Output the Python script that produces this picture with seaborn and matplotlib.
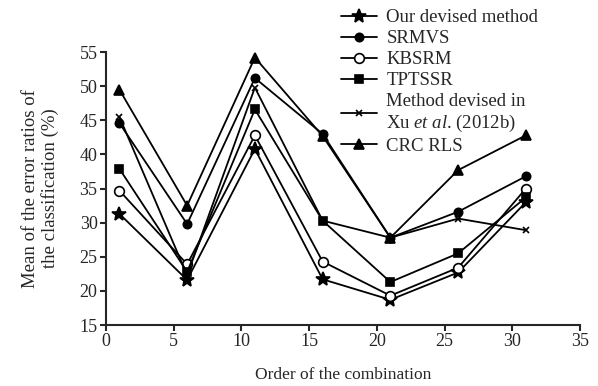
import matplotlib
matplotlib.use("Agg")

import matplotlib.pyplot as plt
import seaborn as sns
import pandas as pd

# combination order on x axis
order = [1, 6, 11, 16, 21, 26, 31]

# mean error ratio (%) per method
ours = [31.3, 21.6, 40.8, 21.7, 18.7, 22.7, 33.0]
srmvs = [44.6, 29.8, 51.2, 43.0, 27.8, 31.6, 36.8]
kbsrm = [34.7, 23.9, 42.8, 24.3, 19.3, 23.4, 35.0]
tptssr = [37.9, 22.8, 46.6, 30.3, 21.3, 25.5, 33.7]
xu2012 = [45.5, 22.3, 49.8, 30.3, 27.8, 30.6, 28.9]
crc_rls = [49.5, 32.5, 54.2, 42.7, 27.8, 37.7, 42.8]

methods = [
    ("Our devised method", ours, "*", "black", 10),
    ("SRMVS", srmvs, "o", "black", 6),
    ("KBSRM", kbsrm, "o", "white", 7),
    ("TPTSSR", tptssr, "s", "black", 6),
    ("Method devised in\nXu $\\it{et\\ al}$. (2012b)", xu2012, "x", "black", 5),
    ("CRC RLS", crc_rls, "^", "black", 7),
]

sns.set_style("ticks")
plt.rcParams["font.family"] = ["Liberation Serif", "DejaVu Serif"]
plt.rcParams["mathtext.fontset"] = "custom"
plt.rcParams["mathtext.rm"] = "Liberation Serif"
plt.rcParams["mathtext.it"] = "Liberation Serif:italic"

fig = plt.figure(figsize=(5.98, 3.86), dpi=100)
ax = fig.add_axes([0.177, 0.158, 0.793, 0.707])

for name, vals, mk, fc, ms in methods:
    df = pd.DataFrame({"order": order, "err": vals})
    sns.lineplot(data=df, x="order", y="err", ax=ax, color="black",
                 marker=mk, markersize=ms, markerfacecolor=fc,
                 markeredgecolor="black", markeredgewidth=1.2,
                 linewidth=1.3, label=name)

ax.set_xlim(0, 35)
ax.set_ylim(15, 55)
ax.set_xticks(range(0, 36, 5))
ax.set_yticks(range(15, 56, 5))
ax.tick_params(labelsize=13, width=1.5, length=4, direction="out", pad=2)
for s in ["left", "bottom"]:
    ax.spines[s].set_linewidth(1.5)
sns.despine(ax=ax)

ax.set_xlabel("Order of the combination", fontsize=12.5, labelpad=12)
ax.set_ylabel("Mean of the error ratios of\nthe classification (%)",
              fontsize=13.5, labelpad=15, linespacing=1.15)

ax.legend(loc="upper left", bbox_to_anchor=(0.555, 1.0), bbox_transform=fig.transFigure,
          frameon=False, fontsize=13.5, handlelength=1.9, handletextpad=0.5,
          labelspacing=0.2, borderaxespad=0.1)

fig.savefig("out.png", dpi=100)
